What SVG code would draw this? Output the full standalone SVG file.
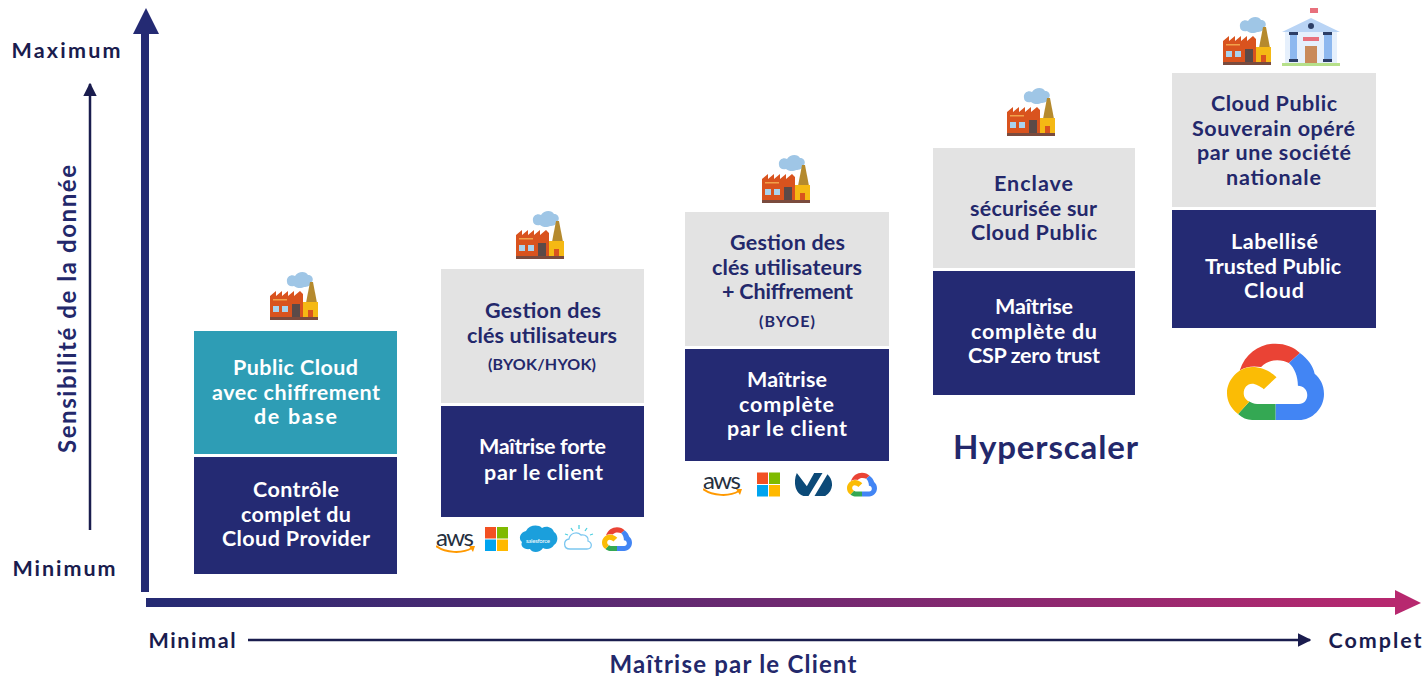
<svg xmlns="http://www.w3.org/2000/svg" width="1426" height="676" viewBox="0 0 1426 676">
<style>
text{font-family:"Lato","Liberation Sans",sans-serif;font-weight:700;font-size:21.5px;text-anchor:middle}
.w{fill:#fff}.d{fill:#23286b}.a{fill:#1a1c4e}.s{font-size:16px}
.navy{fill:#242a73}.grey{fill:#e3e3e3}.teal{fill:#2e9db5}
.thin{stroke:#1a1c4e;stroke-width:2.5;fill:none}
</style>
<defs>
<linearGradient id="g" x1="146" y1="0" x2="1395" y2="0" gradientUnits="userSpaceOnUse"><stop offset="0" stop-color="#242a73"/><stop offset="1" stop-color="#b7286f"/></linearGradient>
<marker id="ah" viewBox="0 0 10 10" refX="9" refY="5" markerWidth="5.500" markerHeight="5.500" orient="auto"><path d="M0 0L10 5L0 10Z" fill="#1a1c4e"/></marker>
<symbol id="factory" viewBox="0 0 50 50">
<path d="M17 10c-1-5 4-8 8-6 3-5 11-5 13-1 4 0 6 4 4 7-1 4-5 5-8 5-3 2-8 1-10-1-4 1-7-1-7-4z" fill="#9fc6e6"/>
<path d="M36 31L40 10h3l4 21z" fill="#b58a2e"/>
<path d="M0 24l6-5v5l6-5v5l6-5v5l6-5v5l6-5 3 3v26H0z" fill="#d9531e"/>
<rect x="3" y="27" width="14" height="1.500" fill="#f2a14a"/>
<rect x="33" y="30" width="15" height="15" fill="#f5b914"/><rect x="38" y="38" width="5" height="7" fill="#d9531e"/>
<rect x="3" y="34" width="6" height="6" fill="#a9d3ee"/><rect x="12" y="34" width="6" height="6" fill="#a9d3ee"/>
<rect x="22" y="32" width="8" height="13" fill="#5b4a48"/><rect x="0" y="45" width="48" height="3" fill="#7a4b3e"/>
</symbol>
<symbol id="gcp" viewBox="80 40 290 230">
<path d="M118 122C135 70 180 42 225 42C255 42 280 52 298 70L265 100C245 88 205 85 182 112C160 108 135 110 118 122Z" fill="#ea4335"/>
<path d="M298 70C322 88 338 110 342 132C358 145 370 165 370 192C370 235 335 270 295 270L225 270L225 222L295 222C310 222 320 210 320 195C320 180 308 168 292 168C292 140 282 115 265 100Z" fill="#4285f4"/>
<path d="M225 222L225 270L155 270C140 270 125 263 113 252L147 215C155 220 160 222 170 222Z" fill="#34a853"/>
<path d="M113 252C90 235 80 212 80 190C80 150 115 112 155 112C185 112 210 125 228 142L190 178C180 170 165 162 155 162C140 162 130 175 130 190C130 200 135 210 147 215Z" fill="#fbbc05"/>
</symbol>
<symbol id="ms" viewBox="0 0 23 24">
<rect width="11" height="11.500" fill="#f25022"/><rect x="12" width="11" height="11.500" fill="#7fba00"/><rect y="12.500" width="11" height="11.500" fill="#00a4ef"/><rect x="12" y="12.500" width="11" height="11.500" fill="#ffb900"/>
</symbol>
<symbol id="smile" viewBox="0 0 39 9">
<path d="M0 1C10 8 26 9 36 3" fill="none" stroke="#f90" stroke-width="2"/><path d="M33 1L39 1L37 7Z" fill="#f90"/>
</symbol>
<symbol id="ovh" viewBox="1125 35 110 75">
<path d="M1130 38L1160 78L1182 38L1207 38L1165 107L1150 107C1125 100 1118 65 1130 38Z" fill="#0c4a78"/>
<path d="M1222 42C1242 62 1240 92 1215 107L1183 107Z" fill="#0c4a78"/>
</symbol>
</defs>

<g id="connectors">
<rect x="141" y="30" width="8" height="562" fill="#242a73"/><path d="M146 8L159 34H133Z" fill="#242a73"/>
<rect x="146" y="598" width="1250" height="9" fill="url(#g)"/><path d="M1395 590L1421 603L1395 615Z" fill="#b7286f"/>
<path class="thin" d="M90 530V84" marker-end="url(#ah)"/>
<path class="thin" d="M248 640H1310" marker-end="url(#ah)"/>
</g>

<g id="axis-labels">
<text class="a" x="66" y="58" textLength="109">Maximum</text>
<text class="a" x="64" y="576" textLength="103">Minimum</text>
<text class="a" x="192" y="648" textLength="87">Minimal</text>
<text class="a" x="1375" y="648" textLength="93">Complet</text>
<text class="d" x="733" y="673" textLength="247" style="font-size:24px">Maîtrise par le Client</text>
<text class="d" transform="translate(76 309) rotate(-90)" textLength="288" style="font-size:24px">Sensibilité de la donnée</text>
</g>

<g id="node-1">
<use href="#factory" x="270" y="272" width="50" height="50"/>
<rect class="teal" x="194" y="331" width="203" height="123"/><rect class="navy" x="194" y="457" width="203" height="117"/>
<text class="w" x="295.500" y="375" textLength="125">Public Cloud</text>
<text class="w" x="296" y="400" textLength="168">avec chiffrement</text>
<text class="w" x="295.500" y="424" textLength="83">de base</text>
<text class="w" x="296" y="497" textLength="86">Contrôle</text>
<text class="w" x="296" y="522" textLength="110">complet du</text>
<text class="w" x="296" y="546" textLength="148">Cloud Provider</text>
</g>

<g id="node-2">
<use href="#factory" x="516" y="211" width="50" height="50"/>
<rect class="grey" x="441" y="269" width="203" height="134"/><rect class="navy" x="441" y="406" width="203" height="111"/>
<text class="d" x="543" y="318" textLength="116">Gestion des</text>
<text class="d" x="542" y="343" textLength="150">clés utilisateurs</text>
<text class="d s" x="542" y="370" textLength="108">(BYOK/HYOK)</text>
<text class="w" x="542.500" y="454" textLength="127">Maîtrise forte</text>
<text class="w" x="543.500" y="480" textLength="119">par le client</text>
<text x="455" y="546" textLength="38" style="font-size:24px;font-weight:400;fill:#252f3e">aws</text>
<use href="#smile" x="436" y="545" width="39" height="9"/>
<use href="#ms" x="485" y="527" width="23" height="24"/>
<g id="salesforce-logo"><path d="M526 531c3-6 12-7 16-3 5-3 11 0 12 4 4 2 5 10 0 13-2 4-8 5-11 3-3 5-11 5-13 1-6 1-10-3-8-7-4-3-2-10 4-11z" fill="#1b9fdc"/><text x="538" y="543" style="font-size:6px;font-weight:400;fill:#fff" textLength="24">salesforce</text></g>
<g id="ibm-logo" fill="none"><path d="M570 549c-7 0-7-9-1-10 1-6 8-8 12-4 5-1 8 3 7 6 5 2 4 8-1 8z" stroke="#7cc7f0" stroke-width="1.300"/><path d="M579 525v4M571 528l2 3M587 528l-2 3M565 534l3 1M593 534l-3 1" stroke="#4fd0e0" stroke-width="1.300"/></g>
<use href="#gcp" x="602" y="526" width="30" height="26"/>
</g>

<g id="node-3">
<use href="#factory" x="762" y="155" width="50" height="50"/>
<rect class="grey" x="685" y="212" width="204" height="134"/><rect class="navy" x="685" y="349" width="204" height="112"/>
<text class="d" x="787.500" y="250" textLength="115">Gestion des</text>
<text class="d" x="787" y="275" textLength="150">clés utilisateurs</text>
<text class="d" x="787.500" y="299" textLength="131">+ Chiffrement</text>
<text class="d s" x="787" y="327" textLength="56">(BYOE)</text>
<text class="w" x="787" y="387" textLength="80">Maîtrise</text>
<text class="w" x="786.500" y="412" textLength="95">complète</text>
<text class="w" x="787" y="436" textLength="120">par le client</text>
<text x="722" y="489" textLength="38" style="font-size:24px;font-weight:400;fill:#252f3e">aws</text>
<use href="#smile" x="703" y="488" width="39" height="9"/>
<use href="#ms" x="757" y="472" width="23" height="25"/>
<use href="#ovh" x="795" y="472" width="37" height="25"/>
<use href="#gcp" x="847" y="472" width="30" height="25"/>
</g>

<g id="node-4">
<use href="#factory" x="1007" y="88" width="50" height="50"/>
<rect class="grey" x="933" y="148" width="202" height="120"/><rect class="navy" x="933" y="271" width="202" height="124"/>
<text class="d" x="1033.500" y="191" textLength="79">Enclave</text>
<text class="d" x="1033.500" y="216" textLength="127">sécurisée sur</text>
<text class="d" x="1034" y="240" textLength="126">Cloud Public</text>
<text class="w" x="1034" y="314" textLength="78">Maîtrise</text>
<text class="w" x="1034" y="339" textLength="126">complète du</text>
<text class="w" x="1034" y="363" textLength="132">CSP zero trust</text>
<text class="d" x="1045.500" y="459" textLength="185" style="font-size:33px">Hyperscaler</text>
</g>

<g id="node-5">
<use href="#factory" x="1223" y="17" width="50" height="50"/>
<g id="building">
<rect x="1310" y="8" width="8" height="5" fill="#e8707c"/><rect x="1285" y="32" width="52" height="32" fill="#e6f0fc"/>
<path d="M1311 18L1340 32H1282Z" fill="#b9d4f5"/><circle cx="1311" cy="26" r="3" fill="#2c3e66"/>
<rect x="1290" y="33" width="7" height="29" fill="#8db8ef"/><rect x="1324" y="33" width="8" height="29" fill="#8db8ef"/>
<rect x="1289" y="32" width="9" height="3" fill="#2c3e66"/><rect x="1323" y="32" width="9" height="3" fill="#2c3e66"/>
<rect x="1289" y="59" width="9" height="3" fill="#2c3e66"/><rect x="1323" y="59" width="9" height="3" fill="#2c3e66"/>
<rect x="1303" y="37" width="16" height="4" fill="#e8707c"/><rect x="1305" y="46" width="12" height="17" fill="#c98a5a"/>
<rect x="1282" y="63" width="58" height="3" fill="#b6e08a"/>
</g>
<rect class="grey" x="1172" y="73" width="204" height="134"/><rect class="navy" x="1172" y="210" width="204" height="118"/>
<text class="d" x="1274" y="111" textLength="126">Cloud Public</text>
<text class="d" x="1273.500" y="136" textLength="163">Souverain opéré</text>
<text class="d" x="1274" y="160" textLength="154">par une société</text>
<text class="d" x="1273.500" y="185" textLength="95">nationale</text>
<text class="w" x="1274.500" y="249" textLength="87">Labellisé</text>
<text class="w" x="1273" y="274" textLength="136">Trusted Public</text>
<text class="w" x="1274" y="298" textLength="60">Cloud</text>
<use href="#gcp" x="1227" y="343" width="97" height="77"/>
</g>
</svg>
